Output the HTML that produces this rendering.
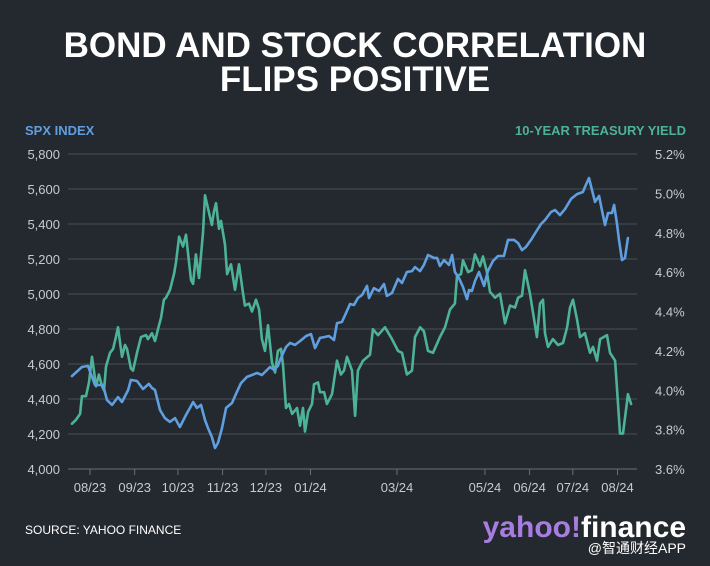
<!DOCTYPE html>
<html><head><meta charset="utf-8">
<style>
html,body{margin:0;padding:0;background:#24282f;}
body{width:710px;height:566px;overflow:hidden;position:relative;font-family:"Liberation Sans","Noto Sans CJK SC",sans-serif;}
svg{position:absolute;left:0;top:0;}
</style></head>
<body>
<svg id="chart" width="710" height="566">
<text x="355" y="57" text-anchor="middle" fill="#fff" font-size="35" font-weight="bold">BOND AND STOCK CORRELATION</text>
<text x="355" y="91" text-anchor="middle" fill="#fff" font-size="35" font-weight="bold">FLIPS POSITIVE</text>
<text x="25" y="135" fill="#5f9fe0" font-size="13" font-weight="bold">SPX INDEX</text>
<text x="686" y="135" text-anchor="end" fill="#4db396" font-size="13" font-weight="bold">10-YEAR TREASURY YIELD</text>
<g id="grid"></g><g id="lines"></g>
<text x="25" y="534" fill="#fff" font-size="12">SOURCE: YAHOO FINANCE</text>
<text x="686" y="537" text-anchor="end" font-size="30" font-weight="bold"><tspan fill="#a77ee0">yahoo!</tspan><tspan fill="#fff">finance</tspan></text>
<text x="686" y="553" text-anchor="end" fill="#fff" font-size="14">@智通财经APP</text>
</svg>
<script>
const leftTicks=[4000,4200,4400,4600,4800,5000,5200,5400,5600,5800];
const rightTicks=[3.6,3.8,4.0,4.2,4.4,4.6,4.8,5.0,5.2];
const monthLabels=["08/23","09/23","10/23","11/23","12/23","01/24","03/24","05/24","06/24","07/24","08/24"];
const monthDays=[0,31,61,92,122,153,213,274,305,335,366];
const spxDays=[-12.5,-5.6,-1.4,3.5,9,11.8,15.3,19.4,22.2,26.4,28.4,32.6,36.8,40.9,43,45.1,48.6,52,55.5,59,62.4,66.6,69.4,71.5,74.2,77,79.8,81.9,84.6,86.7,88.8,91.6,94.4,98.5,101.3,104.8,108.9,112.4,115.9,119.3,122.1,124.9,127.7,130.4,131.8,136,138.8,142.2,145.7,149.9,153.3,156.1,159.6,162.4,165.8,169.3,171.4,174.8,177.6,180.4,183.2,185.9,188.7,192.2,193.6,197,200.5,204,206,209.5,213.7,216.5,219.9,223.4,225.5,229,231.7,234.5,238.7,240.8,242.8,245.6,249.1,251.2,253.2,256,258.8,261.6,263,265,267.1,269.9,273.4,276.1,279.6,283.1,287.2,290,294.2,297,299.7,302.5,306,309.4,312.9,315.7,319.9,322.6,326.1,329.6,333.7,337.9,342,343.4,346.2,348.3,350.4,353.2,355.2,357.3,359.4,362.2,363.6,365.6,367,369.1,371.2,373.2];
const spxValues=[4531,4583,4589,4480,4480,4394,4366,4411,4383,4451,4509,4503,4457,4486,4463,4451,4337,4291,4269,4291,4240,4309,4349,4383,4349,4366,4280,4234,4183,4120,4149,4234,4349,4377,4429,4491,4526,4537,4549,4537,4560,4583,4566,4589,4623,4697,4720,4709,4731,4760,4771,4691,4749,4754,4760,4737,4834,4840,4891,4943,4937,4977,4994,5046,4977,5034,5017,5057,4989,5006,5086,5063,5126,5131,5154,5131,5166,5223,5206,5206,5160,5194,5166,5223,5126,5091,5040,4971,5023,5017,5074,5126,5046,5131,5189,5217,5217,5309,5309,5291,5251,5269,5309,5354,5400,5423,5469,5480,5451,5486,5543,5571,5583,5611,5663,5594,5526,5560,5480,5394,5463,5463,5509,5406,5309,5194,5206,5320];
const yieldDays=[-12.5,-9.7,-6.9,-5.6,-2.8,-0.7,1.4,4.2,6.2,8.3,9.7,11.1,13.9,16,18,19.4,22.2,24.3,25.7,28.4,29.8,32.6,35.4,38.9,40.2,43,45.1,47.2,49.3,51.3,52.7,55.5,58.3,59.7,61.8,64.5,66.6,70.1,71.5,73.5,75.6,78.4,79.8,82.6,84.6,86,87.4,89.5,90.9,93.7,95.1,97.8,100.6,103.4,106.2,107.5,110.3,112.4,115.2,117.3,119.3,121.4,123.5,126.3,128.4,130.4,132.5,133.9,136,138.1,140.2,143.6,145.7,147.8,149.2,151.3,154,155.4,158.2,159.6,162.4,164.4,167.9,171.4,174.1,176.2,178.3,181.8,183.9,185.9,189.4,194.3,196.3,199.8,204.7,209.5,213.7,216.5,219.9,223.4,225.5,229,231.7,234.5,238,242.8,246.3,249.8,253.2,254.6,257.4,258.8,262.3,265,267.1,270.6,272.7,275.4,277.5,281,284.5,287.9,291.4,294.9,297,299.7,301.8,305.3,310.1,312.2,314.3,315.7,317.8,321.2,324.7,328.2,331,333,335.1,337.9,340,343.4,346.9,349,351.8,353.9,358.7,360.8,364.3,366.3,367.7,369.8,372.6,373.2,375.4];
const yieldValues=[3.83,3.85,3.88,3.97,3.97,4.04,4.17,4.02,4.08,4.02,4.00,4.12,4.19,4.21,4.27,4.32,4.17,4.23,4.21,4.11,4.10,4.19,4.27,4.28,4.26,4.29,4.25,4.31,4.37,4.46,4.47,4.51,4.59,4.65,4.78,4.73,4.79,4.56,4.54,4.69,4.57,4.80,4.99,4.90,4.84,4.91,4.95,4.82,4.86,4.74,4.59,4.64,4.51,4.64,4.49,4.43,4.44,4.40,4.46,4.41,4.26,4.20,4.33,4.14,4.09,4.20,4.21,4.13,3.91,3.93,3.88,3.91,3.82,3.91,3.79,3.89,3.93,4.03,4.04,3.99,3.99,3.93,3.98,4.15,4.08,4.10,4.17,4.10,3.87,4.10,4.15,4.18,4.31,4.28,4.32,4.26,4.20,4.19,4.08,4.10,4.27,4.32,4.30,4.20,4.19,4.27,4.32,4.41,4.44,4.58,4.59,4.66,4.60,4.61,4.69,4.63,4.68,4.60,4.50,4.47,4.49,4.34,4.43,4.42,4.47,4.48,4.61,4.49,4.27,4.44,4.46,4.29,4.22,4.26,4.23,4.24,4.32,4.42,4.46,4.36,4.27,4.29,4.19,4.22,4.15,4.26,4.28,4.19,4.15,3.94,3.78,3.78,3.94,3.98,3.93];

const NS="http://www.w3.org/2000/svg";
const X0=68,X1=637,Y0=154,Y1=469;
const xOf=d=>90+d*1.4413;
const yL=v=>Y1-(v-4000)/1800*(Y1-Y0);
const yR=v=>Y1-(v-3.6)/1.6*(Y1-Y0);
const grid=document.getElementById('grid'),lines=document.getElementById('lines');
function mk(tag,attrs,parent){const e=document.createElementNS(NS,tag);for(const k in attrs)e.setAttribute(k,attrs[k]);parent.appendChild(e);return e;}
leftTicks.forEach(v=>{
  const y=yL(v);
  const l=mk('line',{x1:X0,x2:X1,y1:y,y2:y,stroke:v===4000?'#6a6e75':'#4a4e56','stroke-width':1},grid);
  
  
  const t=mk('text',{x:60,y:y+5,'text-anchor':'end',fill:'#c8cacd','font-size':13},grid);
  t.textContent=v.toLocaleString('en-US');
  
  
});
rightTicks.forEach(v=>{
  const t=mk('text',{x:655,y:yR(v)+5,fill:'#c8cacd','font-size':13},grid);
  t.textContent=v.toFixed(1)+'%';
  
  
});
monthLabels.forEach((m,i)=>{
  const x=xOf(monthDays[i]);
  const tk=mk('line',{x1:x,x2:x,y1:Y1,y2:Y1+6,stroke:'#6a6e75'},grid);
  
  
  const t=mk('text',{x:x,y:492,'text-anchor':'middle',fill:'#c8cacd','font-size':13},grid);
  t.textContent=m;
  
  
});
function path(days,vals,yf,color,name){
  const d=days.map((dd,i)=>(i?'L':'M')+xOf(dd).toFixed(1)+','+yf(vals[i]).toFixed(1)).join('');
  const p=mk('path',{d:d,fill:'none',stroke:color,'stroke-width':2.6,'stroke-linejoin':'round','stroke-linecap':'round'},lines);
  
  
}
path(yieldDays,yieldValues,yR,'#4db396','treasury-yield-line');
path(spxDays,spxValues,yL,'#5f9fe0','spx-line');
</script>
</body></html>
